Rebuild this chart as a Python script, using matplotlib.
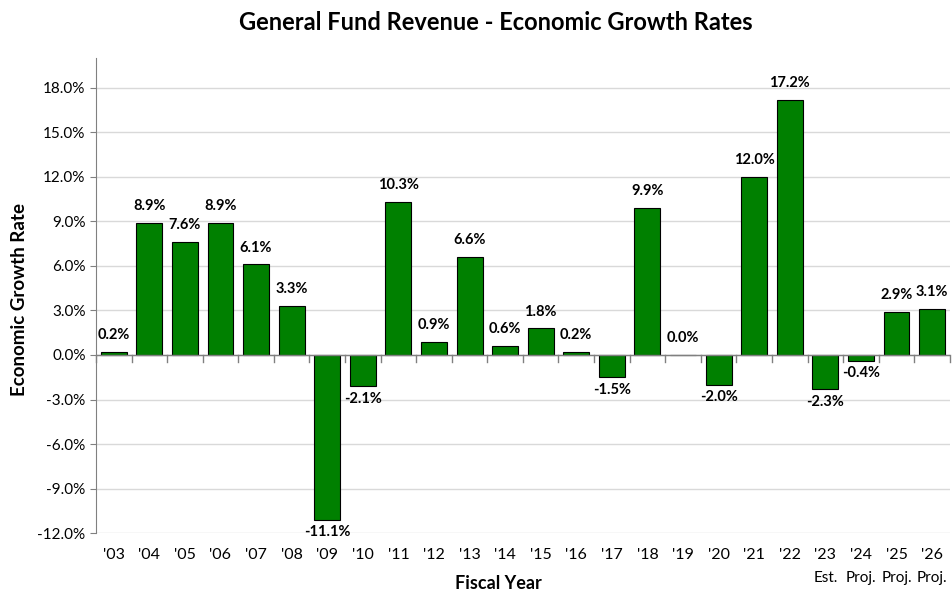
import numpy as np
import matplotlib
matplotlib.use("Agg")
import matplotlib.pyplot as plt
from matplotlib.ticker import FuncFormatter

plt.rcParams['font.family'] = ['Lato', 'DejaVu Sans']

years = ["'03", "'04", "'05", "'06", "'07", "'08", "'09", "'10", "'11", "'12",
         "'13", "'14", "'15", "'16", "'17", "'18", "'19", "'20", "'21", "'22",
         "'23", "'24", "'25", "'26"]
growth = [0.2, 8.9, 7.6, 8.9, 6.1, 3.3, -11.1, -2.1, 10.3, 0.9,
          6.6, 0.6, 1.8, 0.2, -1.5, 9.9, 0.0, -2.0, 12.0, 17.2,
          -2.3, -0.4, 2.9, 3.1]
notes = {"'23": "Est.", "'24": "Proj.", "'25": "Proj.", "'26": "Proj."}

fig = plt.figure(figsize=(9.53, 5.99), dpi=100)
ax = fig.add_axes([0.1007, 0.110, 0.896, 0.793])

x = np.arange(len(years))
ax.bar(x, growth, width=0.73, color="#008000", edgecolor="black", linewidth=0.8, zorder=3)

ax.set_xlim(-0.5, len(years) - 0.5)
ax.set_ylim(-12, 20)
ax.set_yticks(np.arange(-12, 19, 3))
ax.yaxis.set_major_formatter(FuncFormatter(lambda v, p: f"{v:.1f}%"))
ax.grid(axis="y", color="#d9d9d9", linewidth=1, zorder=0)
ax.tick_params(axis="y", labelsize=11, length=4, color="#808080")

for s in ["top", "right", "bottom"]:
    ax.spines[s].set_visible(False)
ax.spines["left"].set_color("#808080")
ax.spines["left"].set_bounds(-12, 20)

# category axis sits on the zero line, ticks between categories
ax.axhline(0, color="#808080", linewidth=1, zorder=4)
ax.set_xticks([])
for b in np.arange(-0.5, len(years), 1.0):
    ax.plot([b, b], [0, -0.45], color="#808080", linewidth=1, zorder=4, clip_on=False)

for xi, yr in zip(x, years):
    ax.annotate(yr, (xi, -12), xytext=(0, -11), textcoords="offset points",
                ha="center", va="top", fontsize=11.5)
    if yr in notes:
        ax.annotate(notes[yr], (xi, -12), xytext=(0, -27), textcoords="offset points",
                    ha="center", va="top", fontsize=11)

for xi, v in zip(x, growth):
    if v >= 0:
        ax.annotate(f"{v:.1f}%", (xi, v), xytext=(0, 7), textcoords="offset points",
                    ha="center", va="bottom", fontsize=10.5, fontweight="bold")
    else:
        ax.annotate(f"{v:.1f}%", (xi, v), xytext=(0, -4), textcoords="offset points",
                    ha="center", va="top", fontsize=10.5, fontweight="bold")

fig.text(0.52, 0.963, "General Fund Revenue - Economic Growth Rates", ha="center",
         va="center", fontsize=17, fontweight="bold")
fig.text(0.523, 0.012, "Fiscal Year", ha="center", va="bottom", fontsize=13, fontweight="bold")
fig.text(0.02, 0.5, "Economic Growth Rate", ha="center", va="center", rotation=90,
         fontsize=13.5, fontweight="bold")

fig.savefig("out.png", dpi=100)
